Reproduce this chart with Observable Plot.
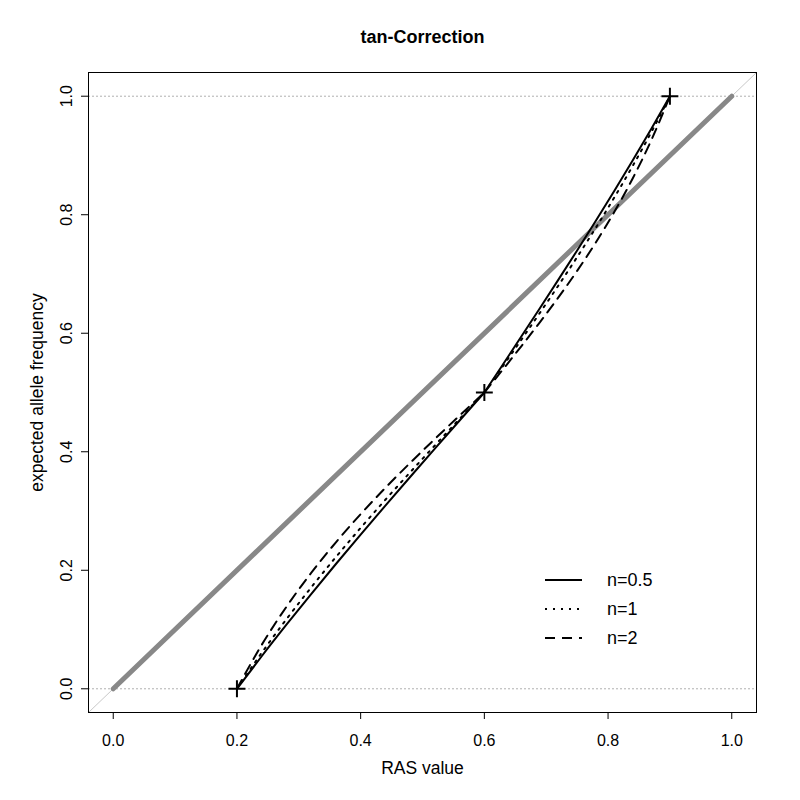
<!DOCTYPE html>
<html>
<head>
<meta charset="utf-8">
<script src="https://cdn.jsdelivr.net/npm/d3@7"></script>
<script src="https://cdn.jsdelivr.net/npm/@observablehq/plot@0.6"></script>
<style>
  html, body { margin: 0; padding: 0; background: white; }
</style>
</head>
<body>
<div id="chart"></div>
<script>
// ---- data ----
const titleText = "tan-Correction";
const xLabel = "RAS value";
const yLabel = "expected allele frequency";
const xTicks = [0, 0.2, 0.4, 0.6, 0.8, 1.0];
const yTicks = [0, 0.2, 0.4, 0.6, 0.8, 1.0];
const xDomain = [-0.04, 1.04];
const yDomain = [-0.04, 1.04];

const anchorX = [0.2, 0.6, 0.9];
const anchorY = [0, 0.5, 1];

const identityX = [0, 1];
const identityY = [0, 1];

const xLower = [0.20, 0.24, 0.28, 0.32, 0.36, 0.40, 0.44, 0.48, 0.52, 0.56, 0.60];
const xUpper = [0.60, 0.63, 0.66, 0.69, 0.72, 0.75, 0.78, 0.81, 0.84, 0.87, 0.90];

const seriesNames = ["n=0.5", "n=1", "n=2"];
const n05Lower = [0, 0.0549, 0.1081, 0.1599, 0.2106, 0.2603, 0.3091, 0.3574, 0.4052, 0.4527, 0.5];
const n05Upper = [0.5, 0.5473, 0.5948, 0.6426, 0.6909, 0.7397, 0.7894, 0.8401, 0.8919, 0.9451, 1];
const n1Lower  = [0, 0.0606, 0.1174, 0.1711, 0.2223, 0.2715, 0.3190, 0.3653, 0.4107, 0.4555, 0.5];
const n1Upper  = [0.5, 0.5445, 0.5893, 0.6347, 0.6810, 0.7285, 0.7777, 0.8289, 0.8826, 0.9394, 1];
const n2Lower  = [0, 0.0741, 0.1384, 0.1955, 0.2472, 0.2947, 0.3391, 0.3812, 0.4216, 0.4611, 0.5];
const n2Upper  = [0.5, 0.5389, 0.5784, 0.6188, 0.6609, 0.7053, 0.7528, 0.8045, 0.8616, 0.9259, 1];

// ---- styles ----
const dashes = {"n=0.5": null, "n=1": "2 6", "n=2": "10 7"};

// ---- build tables ----
const seriesLower = [n05Lower, n1Lower, n2Lower];
const seriesUpper = [n05Upper, n1Upper, n2Upper];
const curveRows = [];
seriesNames.forEach((name, i) => {
  xLower.forEach((x, j) => curveRows.push({name, seg: name + "-lo", x, y: seriesLower[i][j]}));
  xUpper.forEach((x, j) => curveRows.push({name, seg: name + "-hi", x, y: seriesUpper[i][j]}));
});
const anchors = anchorX.map((x, i) => ({x, y: anchorY[i]}));
const identity = identityX.map((x, i) => ({x, y: identityY[i]}));
const fullDiag = xDomain.map((x, i) => ({x, y: yDomain[i]}));

const fmt = d3.format(".1f");
const font = "'Liberation Sans', Arial, sans-serif";

const curveMarks = seriesNames.map(name =>
  Plot.line(curveRows.filter(d => d.name === name), {
    x: "x", y: "y", z: "seg", curve: "monotone-x",
    stroke: "black", strokeWidth: 2,
    strokeDasharray: dashes[name] || undefined
  })
);

const chart = Plot.plot({
  width: 800,
  height: 800,
  marginLeft: 88,
  marginRight: 44,
  marginTop: 72,
  marginBottom: 88,
  style: {fontFamily: font, fontSize: "16px", background: "white", color: "black"},
  x: {domain: xDomain},
  y: {domain: yDomain},
  marks: [
    Plot.ruleY([0, 1], {stroke: "#b0b0b0", strokeWidth: 1, strokeDasharray: "2 2"}),
    Plot.line(fullDiag, {x: "x", y: "y", stroke: "#c8c8c8", strokeWidth: 1, clip: true}),
    Plot.line(identity, {x: "x", y: "y", stroke: "#888888", strokeWidth: 5, strokeLinecap: "round"}),
    ...curveMarks,
    Plot.dot(anchors, {x: "x", y: "y", symbol: "plus", r: 5.5, stroke: "black", strokeWidth: 2}),
    Plot.frame({stroke: "black", strokeWidth: 1}),
    Plot.axisX({ticks: xTicks, tickFormat: fmt, tickSize: 7, tickPadding: 15, fontSize: 16, label: null}),
    Plot.axisY({ticks: yTicks, tickFormat: () => "", tickSize: 7, label: null}),
    Plot.text(yTicks, {y: d => d, text: d => fmt(d), frameAnchor: "left", dx: -22, rotate: -90,
                       textAnchor: "middle", lineAnchor: "middle", fontSize: 16}),
    Plot.text([xLabel], {text: d => d, frameAnchor: "bottom", dy: 56, textAnchor: "middle", lineAnchor: "middle", fontSize: 17.5}),
    Plot.text([yLabel], {text: d => d, frameAnchor: "left", dx: -51, rotate: -90, textAnchor: "middle", lineAnchor: "middle", fontSize: 17.5}),
    Plot.text([titleText], {text: d => d, frameAnchor: "top", dy: -35, textAnchor: "middle", lineAnchor: "middle", fontSize: 18, fontWeight: "bold"})
  ]
});

// ---- legend (inside the plot, no box) ----
const svg = d3.select(chart);
const lg = svg.append("g").attr("font-family", font).attr("font-size", 18).attr("text-anchor", "start");
seriesNames.forEach((name, i) => {
  const yy = 580 + i * 29;
  const ln = lg.append("line")
    .attr("x1", 545).attr("x2", 582).attr("y1", yy).attr("y2", yy)
    .attr("stroke", "black").attr("stroke-width", 2);
  if (dashes[name]) ln.attr("stroke-dasharray", dashes[name]);
  lg.append("text").attr("x", 607).attr("y", yy).attr("dy", "0.35em")
    .attr("text-anchor", "start").attr("fill", "black").text(name);
});

document.getElementById("chart").appendChild(chart);
</script>
</body>
</html>
